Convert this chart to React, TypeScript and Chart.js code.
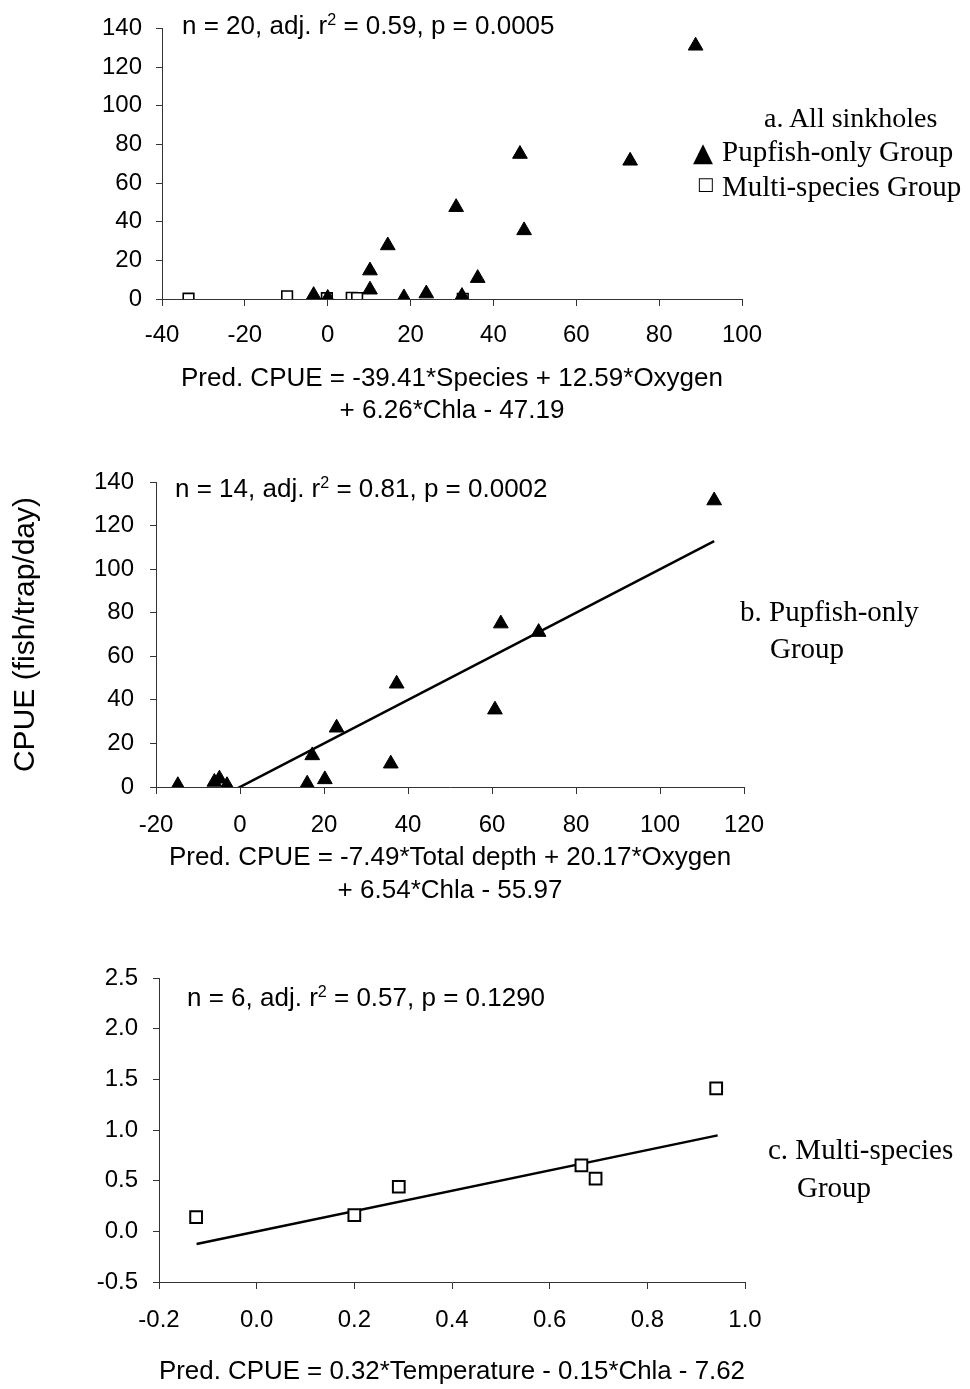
import React, { useEffect, useRef } from "react";
import { Chart, registerables } from "chart.js";

Chart.register(...registerables);

// ---------- Data ----------
// Panel a: all sinkholes
const aPupX = [88.8, 46.4, 73.0, 31.0, 47.4, 14.5, 10.2, 36.2, 10.2, 23.8, -3.4, 18.4, 0.0, 32.4];
const aPupY = [131, 75, 71.5, 47.5, 35.5, 27.7, 14.7, 10.8, 4.8, 2.8, 2.0, 0.8, 0.5, 1.5];
const aMultiX = [-33.6, -9.8, -0.2, 5.8, 7.1, 32.6];
const aMultiY = [0.16, 1.41, 0.43, 0.65, 0.51, 0.14];

// Panel b: pupfish-only group
const bPupX = [112.9, 62.1, 71.1, 37.3, 60.7, 23.0, 17.2, 35.9, 20.2, 16.0, -4.9, -6.1, -3.1, -14.8];
const bPupY = [131.5, 75, 71.1, 47.4, 35.5, 27.2, 14.5, 10.7, 3.5, 1.5, 3.8, 2.3, 0.8, 0.8];
const bFitX = [-1.9, 112.9];
const bFitY = [-1.9, 112.9];

// Panel c: multi-species group
const cMultiX = [-0.124, 0.2, 0.291, 0.665, 0.694, 0.941];
const cMultiY = [0.14, 0.16, 0.44, 0.65, 0.52, 1.41];
const cFitX = [-0.123, 0.944];
const cFitY = [-0.125, 0.947];

// Axis ranges / ticks [min, max, step]
const aXRange = [-40, 100, 20];
const aYRange = [0, 140, 20];
const bXRange = [-20, 120, 20];
const bYRange = [0, 140, 20];
const cXRange = [-0.2, 1.0, 0.2];
const cYRange = [-0.5, 2.5, 0.5];

const aTitle = ["Pred. CPUE = -39.41*Species + 12.59*Oxygen", "+ 6.26*Chla - 47.19"];
const bTitle = ["Pred. CPUE = -7.49*Total depth + 20.17*Oxygen", "+ 6.54*Chla - 55.97"];
const cTitle = "Pred. CPUE = 0.32*Temperature - 0.15*Chla - 7.62";
const yTitle = "CPUE (fish/trap/day)";

const SANS = '"Liberation Sans", Arial, Helvetica, sans-serif';
const SERIF = '"Liberation Serif", "Times New Roman", serif';
const SYM = '"DejaVu Sans", sans-serif';

const pts = (xs: number[], ys: number[]) => xs.map((x, i) => ({ x, y: ys[i] }));

function fmt(v: any, decimals?: number) {
  let n = Number(v);
  if (Math.abs(n) < 1e-9) n = 0;
  return decimals ? n.toFixed(decimals) : String(Math.round(n));
}

function linAxis(o: any) {
  const { range, size, tickLen, pad, decimals, title, isX } = o;
  return {
    type: "linear",
    min: range[0],
    max: range[1],
    afterFit: (s: any) => {
      if (isX) s.height = size;
      else s.width = size;
    },
    ticks: {
      stepSize: range[2],
      autoSkip: false,
      maxRotation: 0,
      color: "#000",
      padding: pad,
      font: { family: SANS, size: 24 },
      callback: (v: any) => fmt(v, decimals),
    },
    grid: {
      display: true,
      drawOnChartArea: false,
      drawTicks: true,
      tickLength: tickLen,
      color: "#333",
      lineWidth: 1,
    },
    border: { display: true, color: "#333", width: 1 },
    title: title || { display: false },
  };
}

function Panel({ top, height, build }: { top: number; height: number; build: () => any }) {
  const ref = useRef<HTMLCanvasElement>(null);
  useEffect(() => {
    const chart = new Chart(ref.current as HTMLCanvasElement, build());
    return () => chart.destroy();
  }, []);
  return (
    <div style={{ position: "absolute", left: 0, top, width: 970, height }}>
      <canvas ref={ref} width={970} height={height} style={{ display: "block", width: 970, height }} />
    </div>
  );
}

const pupStyle = {
  pointStyle: "triangle",
  pointRadius: 8.5,
  pointBackgroundColor: "#000",
  pointBorderColor: "#000",
  pointBorderWidth: 1,
  showLine: false,
};
const multiStyle = {
  pointStyle: "rect",
  pointRadius: 7.5,
  pointBackgroundColor: "#fff",
  pointBorderColor: "#000",
  pointBorderWidth: 1.6,
  showLine: false,
};
const fitStyle = {
  showLine: true,
  pointRadius: 0,
  borderColor: "#000",
  borderWidth: 2.5,
  fill: false,
};

const common = {
  responsive: false,
  animation: false,
  devicePixelRatio: 1,
  plugins: { legend: { display: false }, tooltip: { enabled: false } },
};

const buildA = () => ({
  type: "scatter",
  data: {
    datasets: [
      { label: "Pupfish-only Group", data: pts(aPupX, aPupY), ...pupStyle },
      { label: "Multi-species Group", data: pts(aMultiX, aMultiY), ...multiStyle },
    ],
  },
  options: {
    ...common,
    layout: { padding: { left: 0, top: 17, right: 228, bottom: 0 } },
    scales: {
      x: linAxis({
        range: aXRange, size: 131, tickLen: 7, pad: 15, isX: true,
        title: {
          display: true, text: aTitle, color: "#000",
          font: { family: SANS, size: 26, lineHeight: 32 / 26 },
          padding: { top: 0, bottom: 3 },
        },
      }),
      y: linAxis({ range: aYRange, size: 162, tickLen: 6, pad: 14 }),
    },
  },
});

const buildB = () => ({
  type: "scatter",
  data: {
    datasets: [
      { label: "Pupfish-only Group", data: pts(bPupX, bPupY), ...pupStyle },
      { label: "Fit", data: pts(bFitX, bFitY), ...fitStyle },
    ],
  },
  options: {
    ...common,
    layout: { padding: { left: 0, top: 52, right: 226, bottom: 0 } },
    scales: {
      x: linAxis({
        range: bXRange, size: 123, tickLen: 7, pad: 17, isX: true,
        title: {
          display: true, text: bTitle, color: "#000",
          font: { family: SANS, size: 26, lineHeight: 33 / 26 },
          padding: { top: 0, bottom: 3 },
        },
      }),
      y: linAxis({
        range: bYRange, size: 156, tickLen: 6, pad: 16,
        title: {
          display: true, text: yTitle, color: "#000",
          font: { family: SANS, size: 30, lineHeight: 1.2 },
          padding: { top: 8, bottom: 0 },
        },
      }),
    },
  },
});

const buildC = () => ({
  type: "scatter",
  data: {
    datasets: [
      { label: "Multi-species Group", data: pts(cMultiX, cMultiY), ...multiStyle, pointRadius: 8.3, pointBorderWidth: 2 },
      { label: "Fit", data: pts(cFitX, cFitY), ...fitStyle },
    ],
  },
  options: {
    ...common,
    layout: { padding: { left: 0, top: 68, right: 225, bottom: 0 } },
    scales: {
      x: linAxis({
        range: cXRange, size: 107, tickLen: 7, pad: 17, isX: true, decimals: 1,
        title: {
          display: true, text: cTitle, color: "#000",
          font: { family: SANS, size: 26, lineHeight: 1.2 },
          padding: { top: 0, bottom: 2 },
        },
      }),
      y: linAxis({ range: cYRange, size: 159, tickLen: 6, pad: 15, decimals: 1 }),
    },
  },
});

const txt = (left: number, top: number, size: number, family: string, children: any, extra: any = {}) => (
  <div
    style={{
      position: "absolute", left, top, fontSize: size, fontFamily: family, lineHeight: 1,
      whiteSpace: "nowrap", color: "#000", ...extra,
    }}
  >
    {children}
  </div>
);

const Sup = ({ children }: { children: any }) => (
  <span style={{ fontSize: "0.62em", position: "relative", top: "-0.55em" }}>{children}</span>
);

export default function App() {
  return (
    <div style={{ position: "absolute", left: 0, top: 0, width: 970, height: 1389, background: "#fff", overflow: "hidden" }}>
      <Panel top={0} height={430} build={buildA} />
      <Panel top={430} height={480} build={buildB} />
      <Panel top={910} height={479} build={buildC} />

      {txt(182, 12, 26, SANS, <>n = 20, adj. r<Sup>2</Sup> = 0.59, p = 0.0005</>)}
      {txt(175, 475, 26, SANS, <>n = 14, adj. r<Sup>2</Sup> = 0.81, p = 0.0002</>)}
      {txt(187, 984, 26, SANS, <>n = 6, adj. r<Sup>2</Sup> = 0.57, p = 0.1290</>)}

      {txt(764, 104, 28, SERIF, "a. All sinkholes")}
      {txt(693, 139, 26, SYM, "▲")}
      {txt(722, 137, 29, SERIF, "Pupfish-only Group")}
      {txt(697, 175, 18, SYM, "□")}
      {txt(722, 172, 29, SERIF, "Multi-species Group")}

      {txt(740, 597, 29, SERIF, "b. Pupfish-only")}
      {txt(770, 634, 29, SERIF, "Group")}

      {txt(768, 1135, 29, SERIF, "c. Multi-species")}
      {txt(797, 1173, 29, SERIF, "Group")}
    </div>
  );
}
